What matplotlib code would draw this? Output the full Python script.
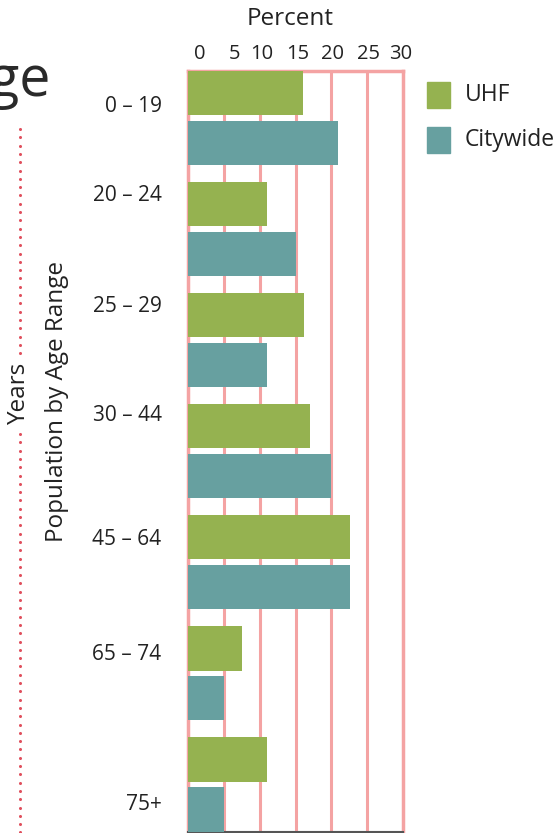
import matplotlib
matplotlib.use("Agg")
import matplotlib.pyplot as plt
import matplotlib.transforms as mtransforms
import numpy as np

age_ranges = ["0 – 19", "20 – 24", "25 – 29", "30 – 44", "45 – 64", "65 – 74", "75+"]
uhf = [16, 11, 16.2, 17, 22.6, 7.5, 11]
citywide = [21, 15, 11, 20, 22.6, 5, 5]
x_ticks = [0, 5, 10, 15, 20, 25, 30]
series_names = ["UHF", "Citywide"]

GREEN = "#95b250"
TEAL = "#67a0a0"
PINK = "#f4a3a3"
TXT = "#222222"

plt.rcParams['font.family'] = ['Open Sans', 'DejaVu Sans']

W, H = 559, 833
fig = plt.figure(figsize=(W / 100, H / 100), dpi=100)
ax = fig.add_axes([188 / W, 1.5 / H, (403 - 188) / W, (832 - 70 - 1.5) / H])

y = np.arange(len(age_ranges))
h = 0.40
off = 0.45
ax.barh(y, uhf, height=h, color=GREEN, zorder=3, label=series_names[0])
ax.barh(y + off, citywide, height=h, color=TEAL, zorder=3, label=series_names[1])

ax.set_xlim(0, 30)
ax.set_ylim(6 + off + 0.2, -0.2)

for xv in x_ticks[1:-1]:
    ax.axvline(xv, color=PINK, lw=2.2, zorder=1)

for s in ["top", "left", "right"]:
    ax.spines[s].set_color(PINK)
    ax.spines[s].set_linewidth(2.5)
ax.spines["bottom"].set_color("#555555")
ax.spines["bottom"].set_linewidth(1.5)

ax.xaxis.tick_top()
ax.set_xticks(x_ticks)
ax.set_xticklabels([str(v) for v in x_ticks], fontsize=14.5, color=TXT)
ax.tick_params(axis="x", length=0, pad=5)
label_shift = [12, 11, 2, 2, 1, 1, -2]
for lab, dx in zip(ax.get_xticklabels(), label_shift):
    lab.set_transform(lab.get_transform() + mtransforms.ScaledTranslation(dx / 100, 0, fig.dpi_scale_trans))

label_pos = [0.1, 0.9, 1.9, 2.88, 4.0, 5.03, 6.38]
ax.set_yticks(label_pos)
ax.set_yticklabels(age_ranges, fontsize=15, color=TXT)
ax.tick_params(axis="y", length=0, pad=19)

fig.text(290 / W, 1 - 19 / H, "Percent", fontsize=17.5, color=TXT, ha="center", va="center")

# legend
for i, (name, col) in enumerate(zip(series_names, [GREEN, TEAL])):
    yc = 95 + i * 45
    fig.patches.append(plt.Rectangle((427 / W, 1 - (yc + 13) / H), 23 / W, 26 / H,
                                     transform=fig.transFigure, color=col, figure=fig))
    fig.text(465 / W, 1 - yc / H, name, fontsize=16.5, color=TXT, ha="left", va="center")

# partial title
fig.text(50 / W, 1 - 96 / H, "Age", fontsize=40, color="#2a2a2a", ha="right", va="baseline")

# dotted vertical line with gap for "Years"
dots1 = np.arange(129, 358, 8.3)
dots2 = np.arange(434, 833, 8.3)
for d in (dots1, dots2):
    fig.add_artist(plt.Line2D([20 / W] * len(d), 1 - d / H, transform=fig.transFigure,
                              ls="none", marker="o", ms=2.2, color="#e0505e", mec="none"))
fig.text(19 / W, 1 - 394 / H, "Years", fontsize=17.5, color=TXT, rotation=90, ha="center", va="center")
fig.text(57 / W, 1 - 402 / H, "Population by Age Range", fontsize=17.5, color=TXT,
         rotation=90, ha="center", va="center")

fig.savefig("out.png", dpi=100)
